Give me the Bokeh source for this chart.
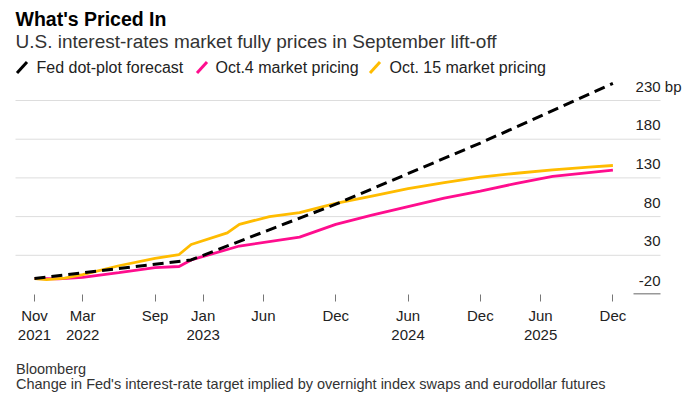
from bokeh.plotting import figure
from bokeh.layouts import column
from bokeh.models import Label, FixedTicker, ColumnDataSource, Range1d
from bokeh.embed import file_html
from bokeh.resources import INLINE

# ---------------- data ----------------
# x = months since Nov 2021
tick_months = [0, 4, 10, 14, 19, 25, 31, 37, 42, 48]
tick_labels = ["Nov\n2021", "Mar\n2022", "Sep", "Jan\n2023", "Jun", "Dec",
               "Jun\n2024", "Dec", "Jun\n2025", "Dec"]

dot_months = [0, 13, 25, 37, 48]
dot_values = [0, 24, 96, 175, 252]

oct4_months = [0, 2, 4, 7, 10, 12, 13, 17, 22, 25, 28, 31, 34, 37, 40, 43, 48]
oct4_values = [0, -0.5, 1.5, 7.5, 14, 15.5, 24, 42, 53.5, 70, 82, 93, 104, 113, 123, 132, 140]

oct15_months = [0, 1, 2.5, 4, 7, 10, 12, 13, 16, 17, 19.5, 22, 25, 28, 31, 34, 37, 40, 43, 46, 48]
oct15_values = [0, -1.5, 0.5, 5, 16.5, 26, 31, 44, 59, 70, 80, 85, 97, 106.5, 116, 124, 131, 136, 140.5, 144, 146]

y_ticks = [-20, 30, 80, 130, 180, 230]
y_tick_labels = ["-20", "30", "80", "130", "180", "230 bp"]
grid_ticks = [30, 80, 130, 180, 230]

series_names = ["Fed dot-plot forecast", "Oct.4 market pricing", "Oct. 15 market pricing"]
series_colors = ["#000000", "#ff0d8e", "#ffbc00"]

title_text = "What's Priced In"
subtitle_text = "U.S. interest-rates market fully prices in September lift-off"
source_text = "Bloomberg"
note_text = "Change in Fed's interest-rate target implied by overnight index swaps and eurodollar futures"

# ---------------- layout (pixels) ----------------
W = 687
H_MAIN = 348
H_NOTE = 47
FRAME_BOTTOM = 294          # bottom of plotting frame
PX_PER_MONTH = 12.05
MONTH0_PX = 34.0            # pixel column of Nov 2021
PX_PER_BP = 0.774
BASE_PX = 293.5             # pixel row of -20
GRID_LEFT, GRID_RIGHT = 15, 660
TEXT_SHIFT = -5             # baseline correction for labels
FONT = "Liberation Sans"

x_start = (0 - MONTH0_PX) / PX_PER_MONTH
x_end = (W - MONTH0_PX) / PX_PER_MONTH
y_start = -20 - (FRAME_BOTTOM - BASE_PX) / PX_PER_BP
y_end = -20 + BASE_PX / PX_PER_BP


def dx(px):
    return (px - MONTH0_PX) / PX_PER_MONTH


def dy(py):
    return -20 + (BASE_PX - py) / PX_PER_BP


p = figure(width=W, height=H_MAIN, x_range=Range1d(x_start, x_end),
           y_range=Range1d(y_start, y_end),
           output_backend="svg", toolbar_location=None, title=None,
           y_axis_location=None,
           min_border_left=0, min_border_right=0, min_border_top=0,
           min_border_bottom=H_MAIN - FRAME_BOTTOM)
p.outline_line_color = None
p.xgrid.visible = False
p.ygrid.visible = False

# x axis
ax = p.xaxis[0]
ax.ticker = FixedTicker(ticks=tick_months)
ax.major_label_overrides = {m: lab for m, lab in zip(tick_months, tick_labels)}
ax.axis_line_color = None
ax.major_tick_line_color = "#777777"
ax.major_tick_line_width = 1
ax.major_tick_out = 7
ax.major_tick_in = 0
ax.minor_tick_line_color = None
ax.major_label_standoff = 5
ax.major_label_text_font = FONT
ax.major_label_text_font_size = "15px"
ax.major_label_text_color = "#222222"
ax.major_label_text_line_height = 1.16

# horizontal grid lines (right-side value scale)
gsrc = ColumnDataSource(dict(x0=[dx(GRID_LEFT)] * len(grid_ticks), x1=[dx(GRID_RIGHT)] * len(grid_ticks),
                             y=grid_ticks))
p.segment(x0="x0", y0="y", x1="x1", y1="y", source=gsrc, line_color="#dddddd", line_width=1)
# short base rule under -20
p.segment(x0=[dx(GRID_RIGHT - 27)], y0=[-20], x1=[dx(GRID_RIGHT)], y1=[-20],
          line_color="#333333", line_width=1)

# lines
p.line(oct4_months, oct4_values, line_color=series_colors[1], line_width=2.8)
p.line(oct15_months, oct15_values, line_color=series_colors[2], line_width=2.8)
p.line(dot_months, dot_values, line_color=series_colors[0], line_width=3, line_dash="11 6")

# value labels above the grid lines
for v, lab in zip(y_ticks, y_tick_labels):
    right = GRID_RIGHT + (21 if lab.endswith("bp") else 0)
    lift = (8.3 if v == -20 else 9) - TEXT_SHIFT
    p.add_layout(Label(x=dx(right), y=v + lift / PX_PER_BP, text=lab,
                       text_align="right", text_baseline="alphabetic",
                       text_font=FONT, text_font_size="15px", text_color="#222222"))

# title & subtitle
p.add_layout(Label(x=dx(15), y=dy(23.3 + TEXT_SHIFT), text=title_text, text_font=FONT,
                   text_font_size="19.5px", text_font_style="bold",
                   text_color="#000000", text_baseline="alphabetic"))
p.add_layout(Label(x=dx(15), y=dy(45.7 + TEXT_SHIFT), text=subtitle_text, text_font=FONT,
                   text_font_size="19px", text_color="#333333",
                   text_baseline="alphabetic"))

# legend
leg_text_px = [36, 215, 389]
leg_icon_px = [16.5, 196.5, 369.5]
src = ColumnDataSource(dict(
    x0=[dx(px) for px in leg_icon_px], y0=[dy(72.5)] * 3,
    x1=[dx(px + 10) for px in leg_icon_px], y1=[dy(61.5)] * 3,
    color=series_colors))
p.segment(x0="x0", y0="y0", x1="x1", y1="y1", line_color="color", line_width=3,
          source=src)
for name, px in zip(series_names, leg_text_px):
    p.add_layout(Label(x=dx(px), y=dy(71.7 + TEXT_SHIFT), text=name, text_font=FONT,
                       text_font_size="16px", text_color="#222222",
                       text_baseline="alphabetic"))

# caption (separate strip below the axis)
c = figure(width=W, height=H_NOTE, x_range=Range1d(0, W), y_range=Range1d(H_NOTE, 0),
           output_backend="svg", toolbar_location=None, title=None,
           x_axis_location=None, y_axis_location=None,
           min_border_left=0, min_border_right=0, min_border_top=0, min_border_bottom=0)
c.outline_line_color = None
c.xgrid.visible = False
c.ygrid.visible = False
c.add_layout(Label(x=15.5, y=373.3 + TEXT_SHIFT - H_MAIN, text=source_text, text_font=FONT,
                   text_font_size="14.5px", text_color="#333333",
                   text_baseline="alphabetic"))
c.add_layout(Label(x=15.5, y=388.3 + TEXT_SHIFT - H_MAIN, text=note_text, text_font=FONT,
                   text_font_size="14.5px", text_color="#333333",
                   text_baseline="alphabetic"))

layout = column(p, c, spacing=0)
open("out.html", "w").write(file_html(layout, INLINE))
